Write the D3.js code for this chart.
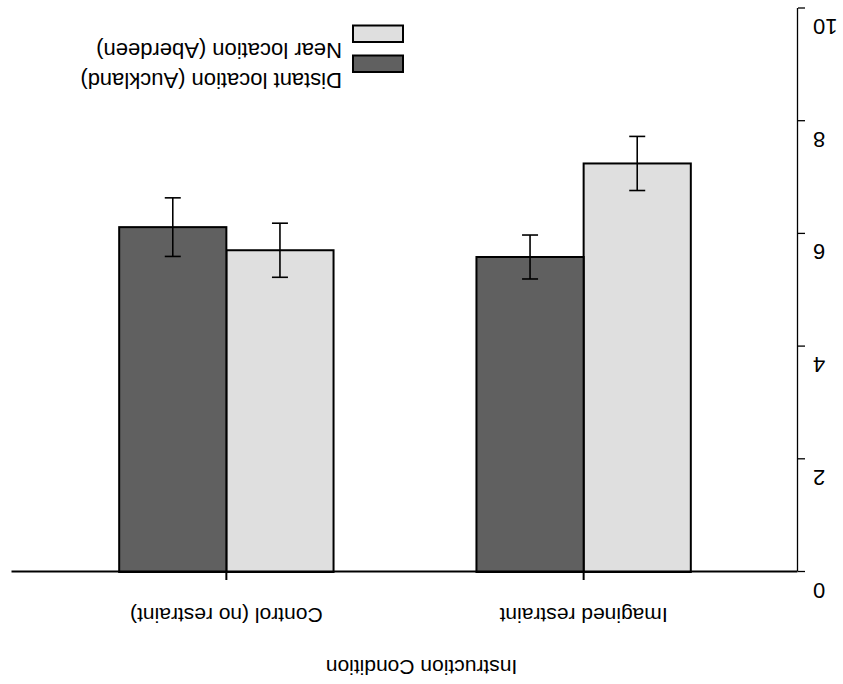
<!DOCTYPE html>
<html>
<head>
<meta charset="utf-8">
<script src="https://cdn.jsdelivr.net/npm/d3@7"></script>
<style>
  body { margin: 0; background: #fff; }
  text { font-family: "Liberation Sans", Arial, sans-serif; }
</style>
</head>
<body>
<div id="main-frame"></div>
<script>
const categories = ["Imagined restraint", "Control (no restraint)"];
const locations = ["Near location (Aberdeen)", "Distant location (Auckland)"];
const nearMeans = [7.25, 5.71];
const nearErrors = [0.48, 0.48];
const distantMeans = [5.59, 6.12];
const distantErrors = [0.39, 0.52];
const yTicks = [0, 2, 4, 6, 8, 10];
const legendOrder = ["Distant location (Auckland)", "Near location (Aberdeen)"];
const xTitle = "Instruction Condition";

const width = 843;
const height = 684;

const colors = {
  "Near location (Aberdeen)": "#dfdfdf",
  "Distant location (Auckland)": "#606060",
};

const rows = categories.map((c, i) => ({
  category: c,
  values: [
    { loc: locations[0], mean: nearMeans[i], err: nearErrors[i] },
    { loc: locations[1], mean: distantMeans[i], err: distantErrors[i] },
  ],
}));

const svg = d3
  .select("#main-frame")
  .append("svg")
  .attr("width", width)
  .attr("height", height);

// the whole picture is turned upside down
const g = svg
  .append("g")
  .attr("transform", `rotate(180 ${width / 2} ${height / 2})`);

const x0 = d3
  .scaleBand()
  .domain(categories)
  .range([45, 831])
  .paddingInner(0.4)
  .paddingOuter(0.3);

const x1 = d3.scaleBand().domain(locations).range([0, x0.bandwidth()]);

const y = d3.scaleLinear().domain([0, 10]).range([112, 675.5]);

const groups = g
  .selectAll("g.group")
  .data(rows)
  .enter()
  .append("g")
  .attr("class", "group")
  .attr("transform", (d) => `translate(${x0(d.category)},0)`);

groups
  .selectAll("rect")
  .data((d) => d.values)
  .enter()
  .append("rect")
  .attr("x", (d) => x1(d.loc))
  .attr("y", y(0))
  .attr("width", x1.bandwidth())
  .attr("height", (d) => y(d.mean) - y(0))
  .attr("fill", (d) => colors[d.loc])
  .attr("stroke", "#000")
  .attr("stroke-width", 2);

const errs = groups
  .selectAll("g.err")
  .data((d) => d.values)
  .enter()
  .append("g")
  .attr("class", "err")
  .attr("stroke", "#000")
  .attr("stroke-width", 1.6);

errs
  .append("line")
  .attr("x1", (d) => x1(d.loc) + x1.bandwidth() / 2)
  .attr("x2", (d) => x1(d.loc) + x1.bandwidth() / 2)
  .attr("y1", (d) => y(d.mean - d.err))
  .attr("y2", (d) => y(d.mean + d.err));

[-1, 1].forEach((s) => {
  errs
    .append("line")
    .attr("x1", (d) => x1(d.loc) + x1.bandwidth() / 2 - 8)
    .attr("x2", (d) => x1(d.loc) + x1.bandwidth() / 2 + 8)
    .attr("y1", (d) => y(d.mean + s * d.err))
    .attr("y2", (d) => y(d.mean + s * d.err));
});

// x axis
const xAxis = g
  .append("g")
  .attr("transform", `translate(0,${y(0)})`)
  .call(d3.axisTop(x0).tickSize(8).tickPadding(28).tickSizeOuter(0));

xAxis.select(".domain").attr("stroke-width", 2);
xAxis.selectAll(".tick line").attr("stroke-width", 2);
xAxis
  .selectAll("text")
  .attr("font-size", "21px")
  .attr("fill", "#000")
  .attr("dy", null);

// y axis
const yAxis = g
  .append("g")
  .attr("transform", "translate(45,0)")
  .call(
    d3.axisLeft(y).tickValues(yTicks).tickSize(7).tickPadding(8).tickSizeOuter(0)
  );

yAxis.select(".domain").attr("stroke-width", 1.3);
yAxis.selectAll(".tick line").attr("stroke-width", 1.3);
yAxis
  .selectAll("text")
  .attr("font-size", "22px")
  .attr("fill", "#000")
  .attr("dy", -11);

g.append("text")
  .attr("x", width / 2)
  .attr("y", 24)
  .attr("text-anchor", "middle")
  .attr("font-size", "21px")
  .text(xTitle);

// legend
const legend = g
  .append("g")
  .selectAll("g")
  .data(legendOrder)
  .enter()
  .append("g")
  .attr("transform", (d, i) => `translate(440,${612 + i * 30})`);

legend
  .append("rect")
  .attr("width", 50)
  .attr("height", 16.5)
  .attr("fill", (d) => colors[d])
  .attr("stroke", "#000")
  .attr("stroke-width", 2);

legend
  .append("text")
  .attr("x", 61)
  .attr("y", -1)
  .attr("font-size", "22px")
  .text((d) => d);
</script>
</body>
</html>
